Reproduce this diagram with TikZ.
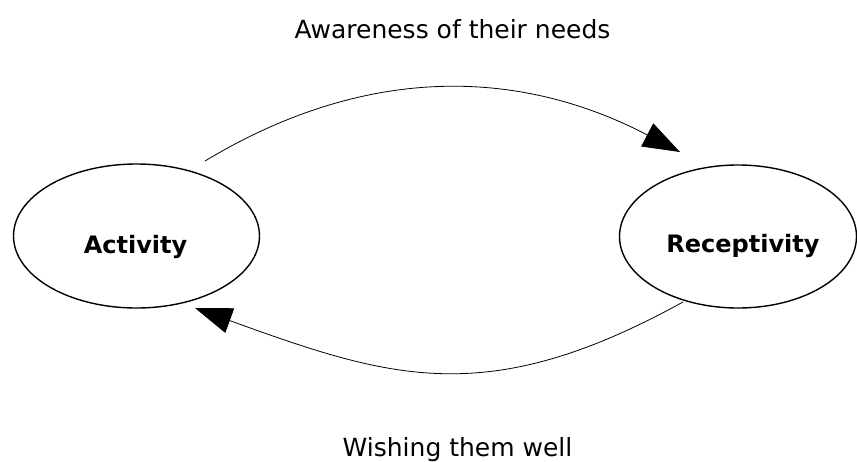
\documentclass[tikz,border=0pt]{standalone}
\usepackage{fontspec}
\setmainfont{DejaVu Sans}
\usetikzlibrary{shapes.geometric,arrows.meta}
\tikzset{
  blob/.style={draw, ellipse, line width=1.4pt, inner sep=0pt},
  conn/.style={draw, line width=0.8pt, -{Triangle[length=37pt,width=26pt]}},
  lab/.style={anchor=base, inner sep=0pt, font=\fontsize{25}{30}\selectfont},
  blab/.style={anchor=base, inner sep=0pt, font=\fontsize{24}{29}\selectfont\bfseries}
}
\begin{document}
\begin{tikzpicture}[x=1pt,y=-1pt]
\useasboundingbox (0,0) rectangle (857,461);
\node[blob, minimum width=246pt, minimum height=144pt] (act) at (136.5,236) {};
\node[blob, minimum width=237pt, minimum height=143pt] (rec) at (738,236.5) {};
\node[blab] (actl) at (135.5,253) {Activity};
\node[blab] (recl) at (743,252) {Receptivity};
\node[lab] (top) at (452.5,38) {Awareness of their needs};
\node[lab] (bot) at (457.5,456) {Wishing them well};
\coordinate (a1) at (205,161);
\coordinate (a2) at (680,152);
\coordinate (b1) at (683,302);
\coordinate (b2) at (195,308);
\draw[conn] (a1) .. controls (366,64) and (519,68) .. (a2);
\draw[conn] (b1) .. controls (487,410) and (391,379) .. (b2);
\end{tikzpicture}
\end{document}
